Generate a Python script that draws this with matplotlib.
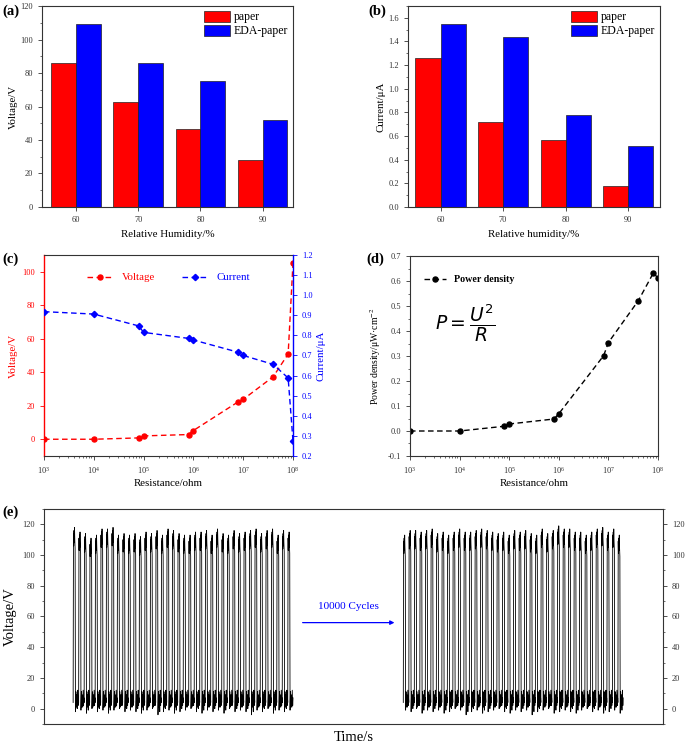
import numpy as np
import matplotlib
matplotlib.use("Agg")
import matplotlib.pyplot as plt
from matplotlib.ticker import MultipleLocator, LogLocator, NullFormatter, FormatStrFormatter

plt.rcParams['font.family'] = ['Liberation Serif', 'DejaVu Serif']
plt.rcParams['mathtext.fontset'] = 'stix'

# ---------------- data ----------------
humidity = ['60', '70', '80', '90']
volt_paper = [86, 62.5, 46.5, 28]
volt_eda = [109, 86, 75, 52]
curr_paper = [1.26, 0.72, 0.57, 0.18]
curr_eda = [1.55, 1.44, 0.78, 0.52]

resistance = [1e3, 1e4, 8e4, 1e5, 8e5, 1e6, 8e6, 1e7, 4e7, 8e7, 1e8]
voltage_r = [0, 0, 0.8, 2.0, 2.8, 5.2, 22.4, 23.8, 37.3, 50.9, 105]
current_r = [0.918, 0.906, 0.847, 0.815, 0.785, 0.777, 0.716, 0.70, 0.656, 0.588, 0.276]
power_r = [0.0, 0.0, 0.019, 0.028, 0.048, 0.069, 0.301, 0.354, 0.521, 0.631, 0.613]

peaks_before = [118, 115, 114, 111, 113, 117, 117, 118, 113, 114, 113, 114, 112, 115, 114, 116,
                113, 117, 116, 114, 113, 113, 115, 115, 116, 113, 117, 114, 113, 116, 114, 115,
                116, 117, 114, 116, 117, 113, 116, 115]
troughs_before = [-2, -1, -3, 0, -2, -1, -3, -1, 0, -2, -1, -2, -3, -1, 0, -4, -2, -1, -3, -2,
                  -1, 0, -2, -3, -1, -2, -1, -3, 0, -2, -1, -2, -4, -1, -2, 0, -3, -1, -2, -1]
peaks_after = [113, 116, 116, 115, 116, 117, 114, 115, 113, 115, 117, 115, 115, 116, 117, 116,
               115, 114, 115, 113, 116, 115, 116, 114, 113, 117, 114, 116, 119, 117, 117, 115,
               115, 113, 115, 117, 118, 115, 117, 113]
troughs_after = [-1, -2, 0, -3, -1, -2, -1, -3, -2, 0, -1, -4, -2, -1, -3, -2, -1, 0, -2, -3,
                 -1, -2, -1, -4, -2, -1, 0, -3, -2, -1, -2, -3, -1, 0, -2, -1, -3, -2, -1, -3]

RED = '#ff0000'
BLUE = '#0000ff'
SPINE = '#333333'
TICK_FS = 6
LAB_FS = 7.8

fig = plt.figure(figsize=(6.85, 7.44), dpi=100)


def style_axes(ax):
    for s in ax.spines.values():
        s.set_color(SPINE)
        s.set_linewidth(0.8)
    ax.tick_params(which='both', direction='out', labelsize=TICK_FS, colors=SPINE,
                   top=False, right=False)
    ax.tick_params(which='major', length=3, width=0.6)
    ax.tick_params(which='minor', length=1.7, width=0.5)


def bar_panel(rect, paper, eda, ylim, major, minor, ylabel, xlabel, xlim, label, lx, fmt):
    ax = fig.add_axes(rect)
    x = np.arange(len(humidity))
    w = 0.4
    ax.bar(x - w / 2, paper, w, color=RED, edgecolor='#222222', linewidth=0.5, label='paper')
    ax.bar(x + w / 2, eda, w, color=BLUE, edgecolor='#222222', linewidth=0.5, label='EDA-paper')
    ax.set_xticks(x)
    ax.set_xticklabels(humidity)
    ax.set_xlim(*xlim)
    ax.set_ylim(*ylim)
    ax.yaxis.set_major_locator(MultipleLocator(major))
    ax.yaxis.set_minor_locator(MultipleLocator(minor))
    ax.yaxis.set_major_formatter(FormatStrFormatter(fmt))
    style_axes(ax)
    ax.set_ylabel(ylabel, fontsize=LAB_FS, labelpad=2)
    ax.set_xlabel(xlabel, fontsize=LAB_FS, labelpad=4)
    ax.legend(loc='upper right', frameon=False, fontsize=8.5, handlelength=2.2,
              handleheight=1.1, handletextpad=0.3, labelspacing=0.1,
              borderaxespad=0.2, borderpad=0.2)
    fig.text(lx, 0.994, label, fontsize=10.5, fontweight='bold', va='top', ha='left')
    return ax


axa = bar_panel([0.0613, 0.7218, 0.3664, 0.2701], volt_paper, volt_eda, (0, 120), 20, 10,
                'Voltage/V', 'Relative Humidity/%', (-0.55, 3.49), '(a)', 0.003, '%d')
axb = bar_panel([0.5956, 0.7218, 0.3679, 0.2701], curr_paper, curr_eda, (0, 1.7), 0.2, 0.1,
                'Current/μA', 'Relative humidity/%', (-0.52, 3.51), '(b)', 0.538, '%.1f')

# ---------------- (c) ----------------
axc = fig.add_axes([0.0642, 0.3871, 0.3635, 0.2702])
lv, = axc.plot(resistance, voltage_r, '--', color=RED, marker='o', ms=3.6, lw=1.0,
               dashes=(4, 2.5), label='Voltage')
axc.set_xscale('log')
axc.set_xlim(1e3, 1e8)
axc.set_ylim(-10, 110)
axc.yaxis.set_major_locator(MultipleLocator(20))
style_axes(axc)
axc.spines['left'].set_color(RED)
axc.spines['left'].set_linewidth(1.0)
axc.spines['right'].set_visible(False)
axc.tick_params(axis='y', colors=RED, labelcolor=RED)
axc.xaxis.set_major_locator(LogLocator(base=10, numticks=10))
axc.xaxis.set_minor_locator(LogLocator(base=10, subs=np.arange(2, 10), numticks=20))
axc.xaxis.set_minor_formatter(NullFormatter())
axc.set_ylabel('Voltage/V', fontsize=LAB_FS, color=RED, labelpad=3)
axc.set_xlabel('Resistance/ohm', fontsize=LAB_FS, labelpad=2)

axc2 = axc.twinx()
lc, = axc2.plot(resistance, current_r, '--', color=BLUE, marker='D', ms=3.2, lw=1.0,
                dashes=(4, 2.5), label='Current')
axc2.set_ylim(0.2, 1.2)
axc2.yaxis.set_major_locator(MultipleLocator(0.1))
axc2.yaxis.set_major_formatter(FormatStrFormatter('%.1f'))
for s in axc2.spines.values():
    s.set_visible(False)
axc2.spines['right'].set_visible(True)
axc2.spines['right'].set_color(BLUE)
axc2.spines['right'].set_linewidth(1.0)
axc2.tick_params(axis='y', which='both', direction='out', labelsize=TICK_FS, colors=BLUE,
                 length=3, width=0.6)
axc2.set_ylabel('Current/μA', fontsize=LAB_FS, color=BLUE, labelpad=3)
leg = axc.legend(handles=[lv, lc], loc='upper center', ncol=2, frameon=False,
                 fontsize=LAB_FS, handlelength=2.4, columnspacing=2.5,
                 bbox_to_anchor=(0.5, 0.96))
for t, c in zip(leg.get_texts(), [RED, BLUE]):
    t.set_color(c)
fig.text(0.003, 0.661, '(c)', fontsize=10.5, fontweight='bold', va='top', ha='left')

# ---------------- (d) ----------------
axd = fig.add_axes([0.5985, 0.3871, 0.3621, 0.2688])
axd.plot(resistance, power_r, '--', color='black', marker='o', ms=3.6, lw=1.0,
         dashes=(4, 2.5), label='Power density')
axd.set_xscale('log')
axd.set_xlim(1e3, 1e8)
axd.set_ylim(-0.1, 0.7)
axd.yaxis.set_major_locator(MultipleLocator(0.1))
axd.yaxis.set_minor_locator(MultipleLocator(0.05))
axd.yaxis.set_major_formatter(FormatStrFormatter('%.1f'))
style_axes(axd)
axd.xaxis.set_major_locator(LogLocator(base=10, numticks=10))
axd.xaxis.set_minor_locator(LogLocator(base=10, subs=np.arange(2, 10), numticks=20))
axd.xaxis.set_minor_formatter(NullFormatter())
axd.set_ylabel('Power density/μW·cm$^{-2}$', fontsize=7, labelpad=3)
axd.set_xlabel('Resistance/ohm', fontsize=LAB_FS, labelpad=2)
axd.legend(loc='upper left', frameon=False, prop={'size': 7.2, 'weight': 'bold'},
           handlelength=2.2, bbox_to_anchor=(0.02, 0.95))
axd.text(0.1, 0.665, r'$P=\dfrac{U^2}{R}$', transform=axd.transAxes, fontsize=13.5,
         math_fontfamily='dejavusans', va='center', ha='left')
fig.text(0.535, 0.661, '(d)', fontsize=10.5, fontweight='bold', va='top', ha='left')

# ---------------- (e) ----------------
axe = fig.add_axes([0.0642, 0.0269, 0.9037, 0.289])


def burst(start, peaks, troughs):
    offs = [0.00, 0.06, 0.10, 0.15, 0.20, 0.25, 0.30, 0.36, 0.42,
            0.50, 0.58, 0.66, 0.74, 0.82, 0.90, 0.96]
    xs, ys = [], []
    for i, (p, tr) in enumerate(zip(peaks, troughs)):
        t0 = start + i
        vals = [4, p - 4, p - 12, p - 2, p - 10, p, p - 8, p - 14, tr,
                11, 1, 9, tr + 2, 12, 2, 7]
        xs.extend(t0 + np.array(offs))
        ys.extend(vals)
    return xs, ys


x1, y1 = burst(5.3, peaks_before, troughs_before)
x2, y2 = burst(65.3, peaks_after, troughs_after)
axe.plot(x1, y1, color='black', lw=0.6)
axe.plot(x2, y2, color='black', lw=0.6)
axe.set_xlim(0, 112.5)
axe.set_ylim(-10, 130)
axe.set_xticks([])
axe.yaxis.set_major_locator(MultipleLocator(20))
axe.yaxis.set_minor_locator(MultipleLocator(10))
for s in axe.spines.values():
    s.set_color(SPINE)
    s.set_linewidth(0.8)
axe.tick_params(axis='y', which='both', direction='out', labelsize=TICK_FS, colors=SPINE,
                left=True, right=True, labelleft=True, labelright=True)
axe.tick_params(which='major', length=3, width=0.6)
axe.tick_params(which='minor', length=1.7, width=0.5)
axe.set_ylabel('Voltage/V', fontsize=10.5, labelpad=4)
axe.set_xlabel('Time/s', fontsize=10.5, labelpad=5)
axe.annotate('', xy=(64.2, 56), xytext=(46.5, 56),
             arrowprops=dict(arrowstyle='-|>', color=BLUE, lw=0.9, mutation_scale=6))
axe.text(55.3, 66.5, '10000 Cycles', color=BLUE, fontsize=8, ha='center', va='center')
fig.text(0.003, 0.320, '(e)', fontsize=10.5, fontweight='bold', va='top', ha='left')

fig.savefig('out.png', dpi=100)
